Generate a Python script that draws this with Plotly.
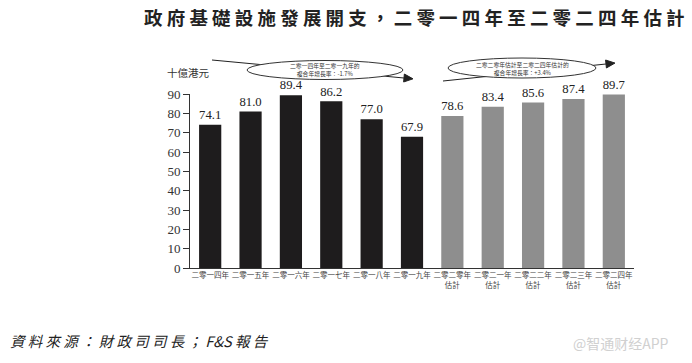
import plotly.graph_objects as go
import math

categories = ["二零一四年", "二零一五年", "二零一六年", "二零一七年", "二零一八年", "二零一九年",
              "二零二零年<br>估計", "二零二一年<br>估計", "二零二二年<br>估計", "二零二三年<br>估計", "二零二四年<br>估計"]
values = [74.1, 81.0, 89.4, 86.2, 77.0, 67.9, 78.6, 83.4, 85.6, 87.4, 89.7]
is_estimate = [False] * 6 + [True] * 5
y_ticks = [0, 10, 20, 30, 40, 50, 60, 70, 80, 90]

title = "政府基礎設施發展開支，二零一四年至二零二四年估計"
y_title = "十億港元"
source = "資料來源：財政司司長；F&S報告"
cagr1 = "二零一四年至二零一九年的<br>複合年增長率：-1.7%"
cagr2 = "二零二零年估計至二零二四年估計的<br>複合年增長率：+3.4%"

W, H = 692, 363
L, R, T, B = 190, 58, 94, 95
PW, PH = W - L - R, H - T - B

def px(x):
    return (x - L) / PW

def py(y):
    return (H - B - y) / PH

colors = ["#8e8e8e" if e else "#1e1c1d" for e in is_estimate]

fig = go.Figure(go.Bar(
    x=list(range(len(categories))), y=values, marker=dict(color=colors, line=dict(width=0)),
    text=[f"{v:.1f}" for v in values], textposition="outside", cliponaxis=False,
    textfont=dict(family="Liberation Serif", size=14, color="#222"),
))

shapes = []
annotations = []

def arrow(x0, y0, x1, y1):
    shapes.append(dict(type="line", xref="paper", yref="paper",
                       x0=px(x0), y0=py(y0), x1=px(x1), y1=py(y1),
                       line=dict(color="#222", width=1)))
    dx, dy = x1 - x0, y1 - y0
    n = math.hypot(dx, dy)
    ux, uy = dx / n, dy / n
    tx, ty = x1 + ux * 9, y1 + uy * 9
    bx, by = x1, y1
    nx, ny = -uy, ux
    pts = [(tx, ty), (bx + nx * 4, by + ny * 4), (bx - nx * 4, by - ny * 4)]
    path = "M " + " L ".join(f"{px(a)},{py(b)}" for a, b in pts) + " Z"
    shapes.append(dict(type="path", xref="paper", yref="paper", path=path,
                       fillcolor="#222", line=dict(color="#222", width=1)))

def ellipse(cx, cy, rx, ry, text):
    shapes.append(dict(type="circle", xref="paper", yref="paper",
                       x0=px(cx - rx), x1=px(cx + rx), y0=py(cy + ry), y1=py(cy - ry),
                       fillcolor="white", line=dict(color="#333", width=1)))
    annotations.append(dict(xref="paper", yref="paper", x=px(cx), y=py(cy), text=text,
                            showarrow=False, xanchor="center", yanchor="middle",
                            font=dict(family="Noto Sans CJK TC", size=5.8, color="#333")))

arrow(212, 60, 404, 78)
ellipse(325, 70, 78, 9.5, cagr1)
arrow(443, 81, 606, 64)
ellipse(522, 68, 74, 10, cagr2)

annotations.append(dict(xref="paper", yref="paper", x=px(165), y=py(72), text=y_title,
                        showarrow=False, xanchor="left", yanchor="middle",
                        font=dict(family="Noto Sans CJK TC", size=10.5, color="#333")))
annotations.append(dict(xref="paper", yref="paper", x=px(414), y=py(17), text=" ".join(title),
                        showarrow=False, xanchor="center", yanchor="middle",
                        font=dict(family="Noto Sans CJK TC", size=18.5, color="#222", weight="bold")))
annotations.append(dict(xref="paper", yref="paper", x=px(8), y=py(340),
                        text="<i>" + " ".join(source.replace("F&S", "\x00")).replace("\x00", "F&amp;S") + "</i>",
                        showarrow=False, xanchor="left", yanchor="middle",
                        font=dict(family="Noto Sans CJK TC, Liberation Serif", size=14.5, color="#222")))
annotations.append(dict(xref="paper", yref="paper", x=px(571), y=py(343), text="@智通财经APP",
                        showarrow=False, xanchor="left", yanchor="middle",
                        font=dict(family="Noto Sans CJK SC", size=14, color="#d0d0d0")))

fig.update_layout(
    width=W, height=H, margin=dict(l=L, r=R, t=T, b=B, autoexpand=False),
    paper_bgcolor="white", plot_bgcolor="white", showlegend=False, bargap=0.45,
    shapes=shapes, annotations=annotations,
    xaxis=dict(tickmode="array", tickvals=list(range(len(categories))), ticktext=categories,
               range=[-0.5, len(categories) - 0.5], showgrid=False, showline=True,
               linecolor="#333", linewidth=1, ticks="", tickangle=0,
               tickfont=dict(family="Noto Sans CJK TC", size=7.5, color="#444")),
    yaxis=dict(range=[0, 90], tickvals=y_ticks, showgrid=False, showline=True, zeroline=False,
               linecolor="#333", linewidth=1, ticks="outside", ticklen=6, tickcolor="#333",
               tickfont=dict(family="Liberation Serif", size=13, color="#333")),
)

fig.write_html("out.html", config={"displayModeBar": False},
               post_script="document.body.style.margin='0';document.body.style.overflow='hidden';")
